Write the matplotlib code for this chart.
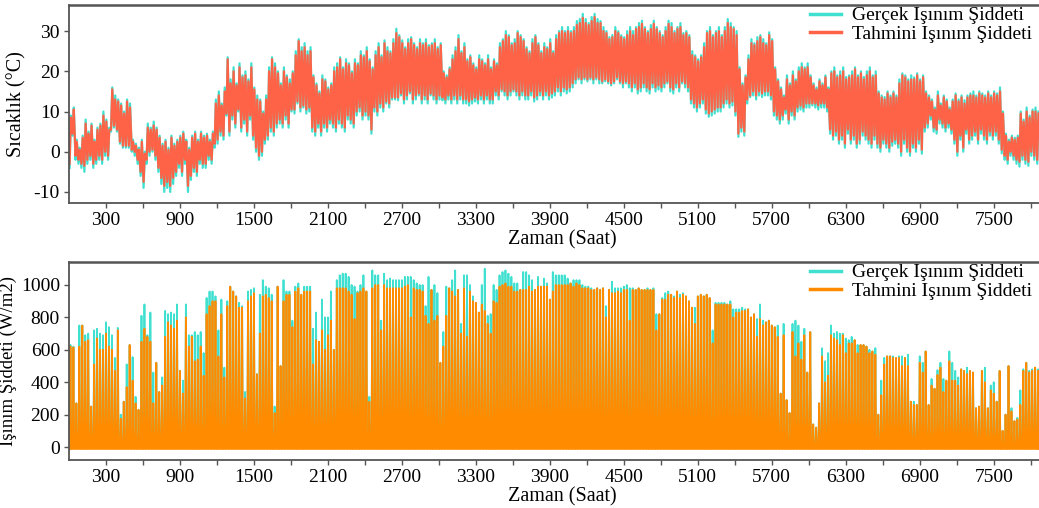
import numpy as np
import matplotlib
matplotlib.use("Agg")
import matplotlib.pyplot as plt
from matplotlib.ticker import FixedLocator

plt.rcParams['font.family'] = ['Liberation Serif', 'DejaVu Serif']
plt.rcParams['axes.unicode_minus'] = False

# gunluk sicaklik degerleri (en yuksek / en dusuk), gun 0..327
T_hi = [9, 11, 3, 1, 4, 8, 5, 7, 3, 6,
        7, 10, 8, 6, 16, 14, 13, 12, 10, 13,
        12, 3, 2, 1, 3, 0, 7, 6, 7.5, 6,
        4, 2, 3, 1, 4, 2, 3, 4, 5, 3,
        1, 4, 5, 3, 5, 4, 4.5, 3, 5, 13,
        15, 12, 16, 23.5, 18, 21, 17, 22, 19, 20,
        18, 22, 16, 14, 13, 10, 14, 21, 23.5, 22,
        20, 17, 21, 19, 18, 20, 25, 28, 26, 27,
        25, 26, 19, 17, 15, 19, 18, 16, 17, 21,
        22, 23.5, 21, 23, 22, 20, 23, 22, 25, 24,
        26, 23, 21, 25, 27, 24, 27.7, 26, 25, 28,
        30.6, 29, 27.7, 26, 28, 28.5, 27, 26, 28, 27,
        28, 26.5, 27, 28, 26, 27, 20, 19, 21, 24,
        26, 29, 25, 27, 23, 24, 22, 21, 24, 23,
        22, 24, 21, 23, 22, 27, 28, 30, 29, 27,
        28, 30, 29, 28, 26, 25, 28, 29, 27, 25,
        27, 26, 28, 25, 29, 30, 31, 30, 31, 30,
        31, 32.5, 33, 34.3, 33, 32, 33.5, 34.3, 33, 32.5,
        31, 30, 28.5, 29, 31, 30, 29, 28.5, 30, 31,
        30, 31, 32, 32.6, 31, 30, 31.5, 32.6, 31, 30,
        29, 31, 32.6, 32, 30, 31, 32, 29.5, 30, 29,
        25, 24, 23, 24, 27, 30, 31, 29, 30, 31,
        29, 31, 33, 32, 31, 30, 21, 17, 19, 24,
        28, 27, 28.5, 29, 28, 27, 29.7, 28, 21, 18,
        16, 14, 19, 17, 20, 18, 21, 22, 21, 22,
        19, 17, 16, 18, 17, 19, 16, 20, 21, 19,
        20, 21, 18.6, 19, 20, 21, 19, 20, 18.6, 20,
        21, 19, 20, 15, 14, 13.6, 15, 14, 15, 14,
        18, 19.5, 19, 18, 19, 18.5, 19.5, 18, 19, 15,
        14, 13, 11, 15, 12, 14, 13, 11, 13, 14.5,
        13, 14, 12.8, 14, 14.5, 15, 14, 15, 14.5, 14,
        15, 14, 15, 14.5, 16, 10, 4.5, 3, 4, 3.5,
        4, 10, 8, 11, 9, 10.5, 11, 10]
T_lo = [-4, 4, -2, -3, -4, -5, -3, -2, -4, -3,
        -2, -3, -1, -2, 5, 6, 5, 2, 1, 1,
        1, 0, -1, -3, -6, -9, -3, -1, 0, -2,
        -5, -8, -10, -9, -10, -8, -6, -4, -6, -3,
        -10, -7, -5, -6, -3, -4, -4, -2, -3, 1,
        2, 4, 3, 9, 4, 8, 6, 10, 5, 7,
        4, 8, 3, 0, -2, -1, 2, 3, 5, 4,
        6, 7, 6, 8, 6, 10, 9.5, 12, 10, 11,
        9.5, 10, 5, 4, 6, 4, 6, 5, 7, 6,
        5, 7, 6, 5, 8, 7, 6, 9, 10, 8,
        9, 8, 4.5, 10, 9, 11, 10, 12, 11, 13,
        13, 12.8, 14, 12, 13, 14.5, 12, 13, 14, 12,
        13, 12, 14, 13, 12, 13, 12.8, 12, 13, 12,
        13, 12, 13, 12, 12, 11.5, 12, 12.5, 12, 13,
        12, 13, 12, 12, 14, 13, 15, 14, 13, 14,
        15, 14, 13, 14, 13, 13, 14, 12.5, 13, 14,
        13, 14, 13, 13.5, 14, 15, 14, 15, 14.5, 15,
        16, 17, 18, 17, 18, 17.5, 18, 17, 18, 17,
        17, 17.5, 17, 16.5, 17, 18, 17, 16, 17, 16,
        15, 16, 14.5, 15, 16, 15, 14.5, 16, 15, 15.5,
        15, 16, 17, 15, 14.5, 16, 15, 17, 16, 15,
        12, 11, 10, 11, 12, 9.5, 8.7, 9, 9.5, 10,
        10, 11, 12, 11, 11.5, 9, 3.7, 5, 4, 12,
        13.6, 14, 13, 14, 13.6, 14, 14, 13, 9, 8,
        7, 8, 9.5, 7, 9, 8, 10, 10.5, 10, 11,
        11, 11.5, 11, 10.5, 11, 11, 10, 4.5, 3, 4,
        2, 3, 1, 4.5, 2, 3, 1, 2, 4, 3,
        2, 1, 3, 1, 0, 2, 1, 0, 1.5, 2,
        1, -1, 2, 0, -1, 1, 0, 2, -0.5, 5,
        6, 8, 5, 4.5, 7, 6, 5, 6, 4.5, 2,
        -1, 3, 0, 4.5, 2, 3, 4, 2, 4.5, 3,
        2, 4, 3, 4, 2, -0.4, -2, -3, -1, -2,
        -3, -3.7, -2, -3, -3.5, -1, -2, -3]

# tahmin edilen sicaklik
P_hi = [8.5, 10.5, 2.5, 0.5, 3.5, 7, 4.5, 6.5, 2.5, 5.5,
        6.5, 9, 7.5, 5.5, 15.5, 13, 12.5, 11.5, 9.5, 12.5,
        11, 2.5, 1.5, 0.5, 2.5, -0.5, 6, 5.5, 6.5, 5.5,
        3.5, 1.5, 2.5, 0.5, 3.5, 1.5, 2.5, 3.5, 4.5, 2.5,
        0.5, 3.5, 4.5, 2.5, 4.5, 3.5, 4, 2.5, 4.5, 12,
        14, 11.5, 15, 23, 17, 20, 16.5, 21, 18.5, 19,
        17.5, 21, 15.5, 13, 12.5, 9.5, 13, 20, 23, 21,
        19.5, 16.5, 20, 18.5, 17, 19.5, 24, 27.5, 25, 26,
        24, 25, 18.5, 16.5, 14.5, 18, 17.5, 15.5, 16.5, 20,
        21, 23, 20.5, 22, 21.5, 19.5, 22, 21.5, 24, 23.5,
        25, 22.5, 20.5, 24, 26, 23.5, 27, 25, 24.5, 27,
        29.5, 28.5, 27, 25.5, 27, 28, 26.5, 25.5, 27, 26.5,
        27, 26, 26.5, 27, 25.5, 26.5, 19.5, 18.5, 20.5, 23,
        25, 28, 24.5, 26, 22.5, 23.5, 21.5, 20.5, 23, 22.5,
        21.5, 23, 20.5, 22.5, 21.5, 26, 27.5, 29, 28.5, 26.5,
        27, 29.5, 28.5, 27.5, 25.5, 24.5, 27, 28.5, 26.5, 24.5,
        26, 25.5, 27, 24.5, 28, 29.5, 30, 29.5, 30, 29.5,
        30, 31.5, 32, 33.3, 32, 31.5, 32.5, 33.5, 32, 32,
        30, 29.5, 28, 28.5, 30, 29.5, 28.5, 28, 29, 30,
        29, 30.5, 31, 31.8, 30.5, 29.5, 30.5, 31.8, 30.5, 29.5,
        28.5, 30, 31.8, 31, 29.5, 30.5, 31, 29, 29.5, 28.5,
        24, 23.5, 22.5, 23.5, 26, 29.5, 30, 28.5, 29.5, 30,
        28.5, 30, 32, 31, 30.5, 29, 20.5, 16.5, 18.5, 23,
        27, 26.5, 27.5, 28.5, 27, 26.5, 29, 27.5, 20.5, 17.5,
        15.5, 13.5, 18, 16.5, 19, 17.5, 20, 21, 20.5, 21,
        18.5, 16.5, 15.5, 17.5, 16.5, 18.5, 15.5, 19.5, 20, 18.5,
        19, 20, 18, 18.5, 19, 20.5, 18.5, 19.5, 18, 19,
        20, 18.5, 19, 14.5, 13.5, 13, 14.5, 13.5, 14.5, 13.5,
        17, 19, 18.5, 17.5, 18, 18, 19, 17.5, 18.5, 14.5,
        13.5, 12.5, 10.5, 14, 11.5, 13.5, 12.5, 10.5, 12.5, 14,
        12.5, 13.5, 12, 13.5, 14, 14, 13.5, 14.5, 14, 13.5,
        14.5, 13.5, 14.5, 14, 15, 9.5, 4, 2.5, 3.5, 3,
        3.5, 9.5, 7.5, 10, 8.5, 10, 10, 9.5]
P_lo = [-3, 4.5, -1, -2, -3, -3.5, -2, -1, -3, -2,
        -1, -2, 0, -1, 5.5, 6.5, 5.5, 2.5, 1.5, 1.5,
        1.5, 0.5, 0, -2, -5, -7.5, -2, 0, 0.5, -1,
        -4, -6.5, -8.5, -7.5, -8.5, -6.5, -5, -3, -5, -2,
        -8.5, -6, -4, -5, -2, -3, -3, -1, -2, 2,
        3, 5, 4, 9.5, 5, 9, 7, 10.5, 6, 8,
        5, 9, 4, 1, -1, 0, 3, 4, 6, 5,
        7, 8, 7, 9, 7, 10.5, 10.5, 12.5, 11, 11.5,
        10.5, 11, 6, 5, 7, 5, 7, 6, 8, 7,
        6, 8, 7, 6, 9, 8, 7, 10, 11, 9,
        10, 9, 5.5, 11, 10, 12, 11, 12.5, 12, 13.5,
        13.5, 13.5, 14.5, 13, 14, 15, 13, 14, 14.5, 13,
        14, 13, 14.5, 14, 13, 14, 13.5, 13, 14, 13,
        14, 13, 14, 13, 13, 12.5, 13, 13.5, 13, 14,
        13, 14, 13, 13, 15, 14, 15.5, 15, 14, 15,
        15.5, 15, 14, 15, 14, 14, 15, 13.5, 14, 15,
        14, 15, 14, 14.5, 15, 16, 15, 16, 15.5, 16,
        17, 18, 18.5, 18, 18.5, 18, 18.5, 18, 18.5, 18,
        17.5, 18, 17.5, 17, 17.5, 18.5, 17.5, 17, 17.5, 17,
        16, 17, 15.5, 16, 17, 16, 15.5, 17, 16, 16.5,
        16, 17, 17.5, 16, 15.5, 17, 16, 17.5, 17, 16,
        13, 12, 11, 12, 13, 10.5, 9.5, 10, 10.5, 11,
        11, 12, 13, 12, 12.5, 10, 4.5, 6, 5, 13,
        14, 15, 14, 15, 14.5, 15, 15, 14, 10, 9,
        8, 9, 10.5, 8, 10, 9, 11, 11.5, 11, 12,
        12, 12, 12, 11.5, 12, 12, 11, 5.5, 4, 5,
        3, 4, 2, 5.5, 3, 4, 2, 3, 5, 4,
        3, 2, 4, 2, 1, 3, 2, 1, 2.5, 3,
        2, 0, 3, 1, 0, 2, 1, 3, 0.5, 6,
        7, 9, 6, 5.5, 8, 7, 6, 7, 5.5, 3,
        0, 4, 1, 5.5, 3, 4, 5, 3, 5.5, 4,
        3, 5, 4, 5, 3, 0.5, -1, -2, 0, -1,
        -2, -2.5, -1, -2, -2.5, 0, -1, -2]

# gunluk en yuksek isinim (gercek / tahmin), W/m2
R_act = [630, 620, 270, 750, 750, 690, 700, 250, 720, 730,
         700, 690, 770, 740, 690, 550, 735, 200, 280, 510,
         630, 555, 310, 230, 810, 880, 690, 830, 460, 520,
         340, 430, 840, 820, 830, 820, 880, 470, 410, 880,
         690, 690, 710, 690, 710, 580, 920, 960, 960, 930,
         720, 910, 490, 900, 990, 960, 930, 890, 870, 340,
         960, 970, 980, 450, 940, 1030, 990, 980, 940, 250,
         990, 500, 1030, 960, 960, 780, 990, 1010, 940, 990,
         990, 990, 730, 830, 650, 910, 800, 800, 960, 600,
         1030, 1060, 1070, 1070, 1050, 1000, 990, 960, 1000, 1060,
         960, 310, 1090, 1060, 1060, 780, 1070, 1030, 1040, 1030,
         1030, 1030, 1030, 1050, 1050, 1050, 1030, 1010, 1000, 1000,
         870, 1050, 970, 1000, 950, 520, 710, 990, 980, 1030,
         1090, 970, 760, 1060, 1060, 1000, 930, 890, 830, 1000,
         1100, 810, 820, 1000, 970, 1060, 1080, 1090, 1070, 1050,
         1010, 1010, 970, 1080, 1080, 1060, 1030, 970, 1050, 990,
         1040, 1010, 910, 1080, 1060, 1060, 1060, 1060, 1040, 1010,
         1030, 1030, 1030, 1000, 990, 990, 980, 970, 980, 970,
         980, 870, 970, 1020, 980, 980, 980, 990, 1000, 980,
         980, 970, 980, 970, 970, 980, 970, 980, 820, 820,
         920, 950, 960, 940, 930, 960, 940, 950, 930, 900,
         860, 860, 930, 940, 930, 940, 920, 720, 890, 890,
         890, 890, 880, 900, 850, 850, 850, 860, 850, 850,
         800, 820, 790, 880, 780, 770, 780, 750, 740, 750,
         330, 760, 290, 210, 760, 780, 750, 650, 730, 460,
         710, 140, 120, 270, 610, 530, 580, 750, 700, 710,
         700, 700, 670, 660, 680, 660, 630, 630, 630, 620,
         600, 590, 610, 200, 410, 550, 560, 560, 560, 550,
         560, 560, 550, 570, 280, 280, 260, 560, 520, 590,
         260, 420, 360, 475, 520, 420, 410, 590, 520, 470,
         430, 480, 470, 490, 470, 460, 240, 250, 470, 490,
         240, 380, 400, 280, 470, 100, 200, 500, 240, 160,
         180, 350, 480, 520, 470, 480, 490, 480]
R_pred = [620, 615, 270, 620, 750, 650, 660, 250, 510, 670,
          600, 600, 700, 620, 600, 470, 720, 175, 280, 370,
          630, 410, 270, 230, 650, 730, 680, 650, 270, 520,
          340, 380, 680, 770, 750, 730, 780, 470, 330, 800,
          620, 680, 530, 540, 620, 440, 820, 870, 900, 900,
          560, 820, 430, 870, 990, 960, 930, 860, 860, 300,
          900, 930, 950, 450, 700, 930, 940, 920, 900, 210,
          990, 500, 900, 940, 940, 740, 960, 980, 940, 960,
          960, 960, 510, 660, 650, 720, 600, 690, 780, 600,
          980, 980, 980, 980, 960, 940, 790, 950, 960, 980,
          960, 280, 980, 1000, 1000, 720, 1000, 980, 980, 980,
          980, 980, 980, 990, 1000, 800, 980, 970, 970, 960,
          810, 760, 970, 780, 810, 520, 620, 810, 980, 960,
          930, 970, 700, 980, 680, 960, 900, 890, 830, 880,
          840, 760, 700, 900, 890, 990, 1000, 1010, 990, 990,
          960, 960, 970, 970, 970, 990, 960, 970, 990, 990,
          990, 990, 910, 960, 1000, 1000, 1000, 1000, 1000, 1010,
          990, 1010, 1000, 980, 980, 980, 970, 970, 980, 970,
          980, 800, 970, 950, 950, 960, 950, 970, 970, 780,
          970, 970, 980, 970, 970, 970, 970, 970, 720, 820,
          910, 910, 940, 940, 920, 960, 920, 940, 930, 900,
          860, 760, 930, 940, 930, 940, 920, 640, 880, 880,
          880, 880, 880, 880, 800, 830, 830, 840, 840, 850,
          800, 820, 680, 790, 750, 770, 780, 750, 740, 680,
          330, 690, 290, 210, 710, 560, 640, 540, 690, 460,
          710, 140, 120, 270, 560, 400, 440, 690, 670, 660,
          630, 690, 580, 640, 640, 660, 580, 630, 630, 620,
          580, 590, 570, 200, 320, 510, 560, 560, 550, 550,
          550, 500, 550, 500, 280, 260, 260, 520, 460, 590,
          260, 380, 360, 445, 490, 340, 410, 530, 410, 410,
          380, 480, 470, 450, 470, 460, 240, 250, 470, 400,
          240, 350, 330, 280, 470, 100, 200, 500, 220, 160,
          170, 260, 470, 520, 460, 470, 490, 470]
R_night_act = 0
R_night_pred = -12

labels = ['Gerçek Işınım Şiddeti', 'Tahmini Işınım Şiddeti']


def temp_series(hi, lo):
    # gece en dusuk (saat 5), ogleden sonra en yuksek (saat 15)
    d = np.arange(len(hi)) * 24
    t = np.column_stack([d + 5, d + 15]).ravel()
    v = np.column_stack([lo, hi]).ravel()
    return t, v


def rad_series(peak, night):
    d = np.arange(len(peak)) * 24
    t = np.column_stack([d + 6, d + 12, d + 18]).ravel()
    n = np.full(len(peak), night)
    v = np.column_stack([n, peak, n]).ravel()
    return t, v


fig = plt.figure(figsize=(10.39, 5.08), dpi=100)
ax1 = fig.add_axes([0.0664, 0.6004, 0.949, 0.3898])
ax2 = fig.add_axes([0.0664, 0.0945, 0.949, 0.3898])

t, v = temp_series(T_hi, T_lo)
ax1.plot(t, v, color='#40E0D0', lw=1.6, label=labels[0])
t, v = temp_series(P_hi, P_lo)
ax1.plot(t, v, color='#FF6347', lw=1.6, label=labels[1])
ax1.set_ylim(-12.75, 36.5)
ax1.set_ylabel('Sıcaklık (°C)', fontsize=14.5, labelpad=5)
ax1.set_yticks([-10, 0, 10, 20, 30])

t, v = rad_series(R_act, R_night_act)
ax2.plot(t, v, color='#40E0D0', lw=1.3, label=labels[0])
t, v = rad_series(R_pred, R_night_pred)
ax2.plot(t, v, color='#FF8C00', lw=1.3, label=labels[1])
ax2.set_ylim(-80, 1142)
ax2.set_ylabel('Işınım Şiddeti (W/m2)', fontsize=13.5, labelpad=3)
ax2.set_yticks([0, 200, 400, 600, 800, 1000])

for ax in (ax1, ax2):
    ax.set_xlim(0, 7997)
    ax.xaxis.set_major_locator(FixedLocator(np.arange(300, 8000, 600)))
    ax.xaxis.set_minor_locator(FixedLocator(np.arange(600, 8000, 600)))
    ax.set_xlabel('Zaman (Saat)', fontsize=14.5, labelpad=1)
    ax.tick_params(which='both', direction='out', length=3.5, width=1,
                   color='#555555', labelsize=14, pad=3)
    ax.spines['right'].set_visible(False)
    for s in ('left', 'top', 'bottom'):
        ax.spines[s].set_color('#555555')
        ax.spines[s].set_linewidth(1.3)
    ax.spines['top'].set_linewidth(1.8)
    leg = ax.legend(loc='upper right', bbox_to_anchor=(0.985, 1.03),
                    frameon=False, fontsize=14, handlelength=1.6,
                    labelspacing=0.05, handletextpad=0.6, borderaxespad=0)
    for line in leg.get_lines():
        line.set_linewidth(2.5)

plt.savefig('out.png', dpi=100)
